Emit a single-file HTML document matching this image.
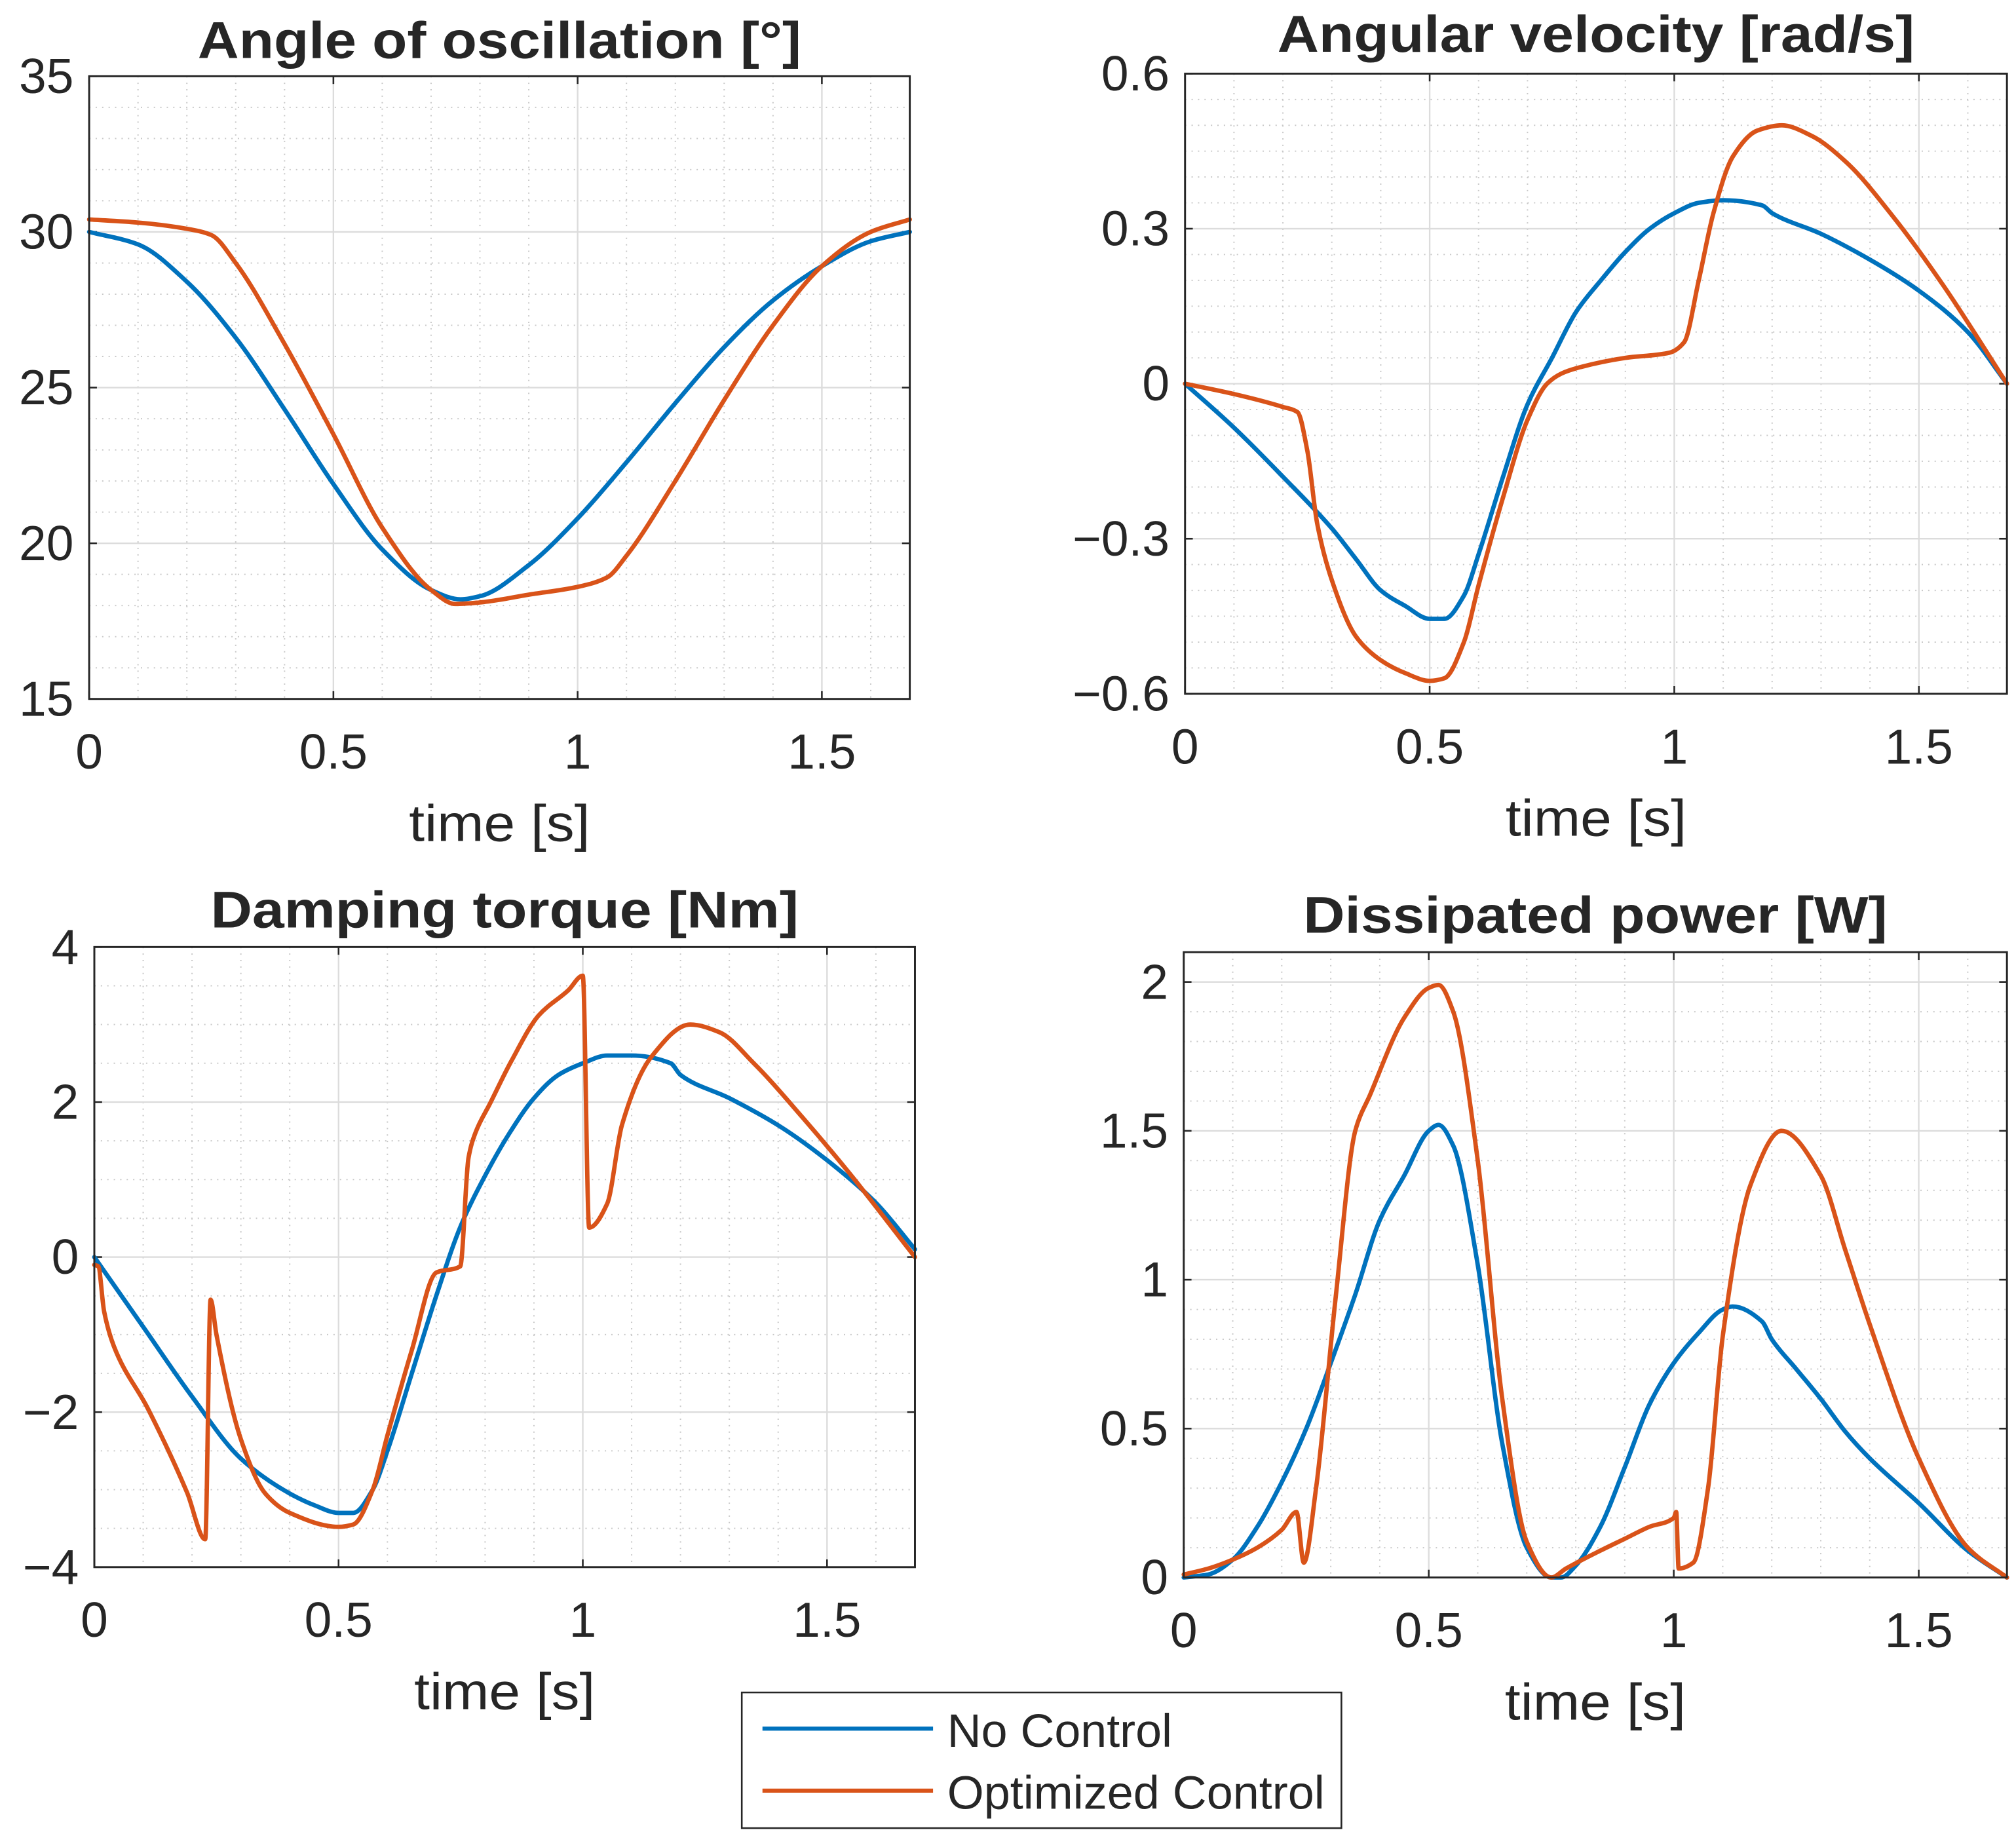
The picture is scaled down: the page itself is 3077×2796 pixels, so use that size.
<!DOCTYPE html>
<html><head><meta charset="utf-8"><style>
html,body{margin:0;padding:0;background:#fff;}
svg{display:block;}
text{font-family:"Liberation Sans",Arial,sans-serif;fill:#262626;}
</style></head><body>
<svg id="fig" width="3077" height="2796" viewBox="0 0 1560 1418" preserveAspectRatio="none" xmlns="http://www.w3.org/2000/svg"></svg>
<script>
// ---- data ----
const angleT_nc = [0,0.1,0.2,0.3,0.4,0.5,0.6,0.7,0.76,0.8,0.9,1.0,1.1,1.2,1.3,1.4,1.5,1.6,1.68];
const angleV_nc = [30,29.6,28.4,26.6,24.3,21.9,19.8,18.5,18.2,18.3,19.3,20.8,22.6,24.5,26.3,27.8,28.9,29.7,30];
const angleT_oc = [0,0.1,0.2,0.25,0.3,0.4,0.5,0.6,0.7,0.75,0.8,0.9,1.0,1.06,1.1,1.2,1.3,1.4,1.5,1.6,1.68];
const angleV_oc = [30.4,30.3,30.1,29.9,29.0,26.4,23.5,20.5,18.5,18.05,18.1,18.35,18.6,18.9,19.6,22.0,24.6,27.0,28.9,30.0,30.4];

const velT_nc = [0,0.1,0.2,0.3,0.35,0.4,0.45,0.5,0.53,0.57,0.6,0.65,0.7,0.75,0.8,0.85,0.9,0.95,1.0,1.05,1.1,1.18,1.2,1.3,1.4,1.5,1.6,1.68];
const velV_nc = [0,-0.085,-0.18,-0.28,-0.34,-0.4,-0.43,-0.455,-0.455,-0.41,-0.33,-0.18,-0.04,0.05,0.14,0.2,0.255,0.3,0.33,0.35,0.355,0.345,0.33,0.29,0.24,0.18,0.1,0];
const velT_oc = [0,0.1,0.2,0.23,0.25,0.27,0.3,0.35,0.4,0.45,0.5,0.53,0.57,0.6,0.65,0.7,0.74,0.77,0.8,0.9,0.99,1.02,1.05,1.08,1.12,1.17,1.22,1.28,1.35,1.45,1.55,1.68];
const velV_oc = [0,-0.02,-0.045,-0.055,-0.13,-0.27,-0.38,-0.49,-0.535,-0.56,-0.575,-0.57,-0.5,-0.39,-0.22,-0.07,0.0,0.02,0.03,0.05,0.06,0.08,0.2,0.33,0.44,0.49,0.5,0.48,0.43,0.32,0.19,0];

const torT_nc = [0,0.1,0.2,0.3,0.4,0.45,0.5,0.53,0.57,0.6,0.65,0.7,0.75,0.8,0.85,0.9,0.95,1.0,1.05,1.1,1.18,1.2,1.3,1.4,1.5,1.6,1.68];
const torV_nc = [0,-0.9,-1.8,-2.6,-3.05,-3.2,-3.3,-3.3,-3.0,-2.5,-1.5,-0.5,0.4,1.05,1.6,2.05,2.35,2.5,2.6,2.6,2.5,2.35,2.05,1.7,1.25,0.7,0.1];
const torT_oc = [0,0.008,0.02,0.04,0.11,0.19,0.227,0.238,0.25,0.3,0.35,0.4,0.5,0.53,0.57,0.6,0.65,0.7,0.749,0.766,0.78,0.81,0.853,0.91,0.97,1.0,1.013,1.05,1.08,1.14,1.22,1.28,1.35,1.45,1.55,1.68];
const torV_oc = [-0.1,-0.12,-0.7,-1.15,-1.96,-3.04,-3.64,-0.55,-1.0,-2.35,-3.05,-3.3,-3.48,-3.45,-3.0,-2.3,-1.2,-0.2,-0.12,1.28,1.6,1.98,2.52,3.12,3.44,3.63,0.38,0.69,1.7,2.58,3.0,2.9,2.5,1.8,1.05,0];

const powT_nc = [0,0.05,0.1,0.15,0.2,0.25,0.3,0.35,0.4,0.45,0.5,0.52,0.55,0.6,0.65,0.7,0.75,0.77,0.8,0.85,0.9,0.95,1.0,1.05,1.1,1.12,1.18,1.2,1.25,1.3,1.35,1.4,1.5,1.6,1.68];
const powV_nc = [0,0.01,0.06,0.17,0.32,0.5,0.72,0.95,1.2,1.35,1.5,1.52,1.45,1.05,0.45,0.1,0.0,0.0,0.04,0.17,0.37,0.58,0.72,0.82,0.9,0.91,0.86,0.8,0.7,0.6,0.49,0.4,0.25,0.09,0];
const powT_oc = [0,0.05,0.1,0.15,0.2,0.23,0.245,0.27,0.31,0.35,0.38,0.45,0.5,0.52,0.55,0.6,0.65,0.7,0.75,0.78,0.85,0.9,0.95,1.0,1.005,1.01,1.04,1.07,1.1,1.157,1.22,1.3,1.35,1.4,1.5,1.6,1.68];
const powV_oc = [0.01,0.03,0.06,0.1,0.16,0.22,0.05,0.3,0.94,1.5,1.62,1.88,1.98,1.99,1.9,1.4,0.6,0.12,0.0,0.03,0.09,0.13,0.17,0.2,0.22,0.03,0.05,0.3,0.81,1.32,1.5,1.35,1.1,0.85,0.4,0.1,0];

const xTicks = [0,0.5,1,1.5];
const xTickLabels = ["0","0.5","1","1.5"];
const angleYTicks = [15,20,25,30,35];
const angleYLabels = ["15","20","25","30","35"];
const velYTicks = [-0.6,-0.3,0,0.3,0.6];
const velYLabels = ["\u22120.6","\u22120.3","0","0.3","0.6"];
const torYTicks = [-4,-2,0,2,4];
const torYLabels = ["\u22124","\u22122","0","2","4"];
const powYTicks = [0,0.5,1,1.5,2];
const powYLabels = ["0","0.5","1","1.5","2"];

// ---- layout ----
const NS = "http://www.w3.org/2000/svg";
const svg = document.getElementById('fig');
function mk(tag, attrs, parent){const e=document.createElementNS(NS,tag);for(const k in attrs)e.setAttribute(k,attrs[k]);(parent||svg).appendChild(e);return e;}

// monotone cubic path through pixel points
function smoothPath(px, py){
  const n=px.length; if(n<2) return '';
  const d=[], m=new Array(n);
  for(let i=0;i<n-1;i++) d.push((py[i+1]-py[i])/(px[i+1]-px[i]));
  m[0]=d[0]; m[n-1]=d[n-2];
  for(let i=1;i<n-1;i++){
    if(d[i-1]*d[i]<=0) m[i]=0;
    else { const w1=2*(px[i+1]-px[i])+(px[i]-px[i-1]), w2=(px[i+1]-px[i])+2*(px[i]-px[i-1]);
      m[i]=(w1+w2)/(w1/d[i-1]+w2/d[i]); }
  }
  let s='M'+px[0].toFixed(2)+','+py[0].toFixed(2);
  for(let i=0;i<n-1;i++){
    const h=(px[i+1]-px[i])/3;
    s+=' C'+(px[i]+h).toFixed(2)+','+(py[i]+m[i]*h).toFixed(2)+' '+(px[i+1]-h).toFixed(2)+','+(py[i+1]-m[i+1]*h).toFixed(2)+' '+px[i+1].toFixed(2)+','+py[i+1].toFixed(2);
  }
  return s;
}

const BLUE="#0072BD", ORANGE="#D95319";
const panels = [
 {name:"angle", title:"Angle of oscillation [°]", titleW:467, L:69,R:704,T:59,B:541, xmax:1.68, ymin:15,ymax:35, yt:angleYTicks, yl:angleYLabels, minorY:1,
  s:[[angleT_nc,angleV_nc,BLUE],[angleT_oc,angleV_oc,ORANGE]], titleY:45},
 {name:"velocity", title:"Angular velocity [rad/s]", titleW:493, L:917,R:1553,T:57,B:537, xmax:1.68, ymin:-0.6,ymax:0.6, yt:velYTicks, yl:velYLabels, minorY:0.05,
  s:[[velT_nc,velV_nc,BLUE],[velT_oc,velV_oc,ORANGE]], titleY:40},
 {name:"torque", title:"Damping torque [Nm]", titleW:455, L:73,R:708,T:733,B:1213, xmax:1.68, ymin:-4,ymax:4, yt:torYTicks, yl:torYLabels, minorY:0.5,
  s:[[torT_nc,torV_nc,BLUE],[torT_oc,torV_oc,ORANGE]], titleY:718},
 {name:"power", title:"Dissipated power [W]", titleW:452, L:916,R:1553,T:737,B:1221, xmax:1.68, ymin:0,ymax:2.1, yt:powYTicks, yl:powYLabels, minorY:0.1,
  s:[[powT_nc,powV_nc,BLUE],[powT_oc,powV_oc,ORANGE]], titleY:722}
];

panels.forEach(p=>{
  const g = mk('g',{});
  
  
  const xs = v => p.L + (v/p.xmax)*(p.R-p.L);
  const ys = v => p.B - (v-p.ymin)/(p.ymax-p.ymin)*(p.B-p.T);
  mk('rect',{x:p.L,y:p.T,width:p.R-p.L,height:p.B-p.T,fill:'#fff'},g);
  for(let i=1;i<Math.round(p.xmax*10)+1;i++){const v=i/10; if(i%5===0||v>=p.xmax)continue;
    const l=mk('line',{x1:xs(v),x2:xs(v),y1:p.T,y2:p.B,stroke:'#c8c8c8','stroke-width':1,'stroke-dasharray':'1 4'},g);
    
    }
  const nMin = Math.round((p.ymax-p.ymin)/p.minorY);
  for(let i=1;i<nMin;i++){const v=p.ymin+i*p.minorY; if(p.yt.some(t=>Math.abs(t-v)<1e-6))continue;
    const l=mk('line',{x1:p.L,x2:p.R,y1:ys(v),y2:ys(v),stroke:'#c8c8c8','stroke-width':1,'stroke-dasharray':'1 4'},g);
    
    }
  xTicks.forEach((v,i)=>{
    const l=mk('line',{x1:xs(v),x2:xs(v),y1:p.T,y2:p.B,stroke:'#dcdcdc','stroke-width':1.2},g);
    
    
    mk('line',{x1:xs(v),x2:xs(v),y1:p.B,y2:p.B-6,stroke:'#262626','stroke-width':1.3},g);
    mk('line',{x1:xs(v),x2:xs(v),y1:p.T,y2:p.T+6,stroke:'#262626','stroke-width':1.3},g);
    const t=mk('text',{x:xs(v),y:p.B+54,'font-size':38,'text-anchor':'middle'},g);
    t.textContent=xTickLabels[i];
    
    
  });
  p.yt.forEach((v,i)=>{
    const l=mk('line',{x1:p.L,x2:p.R,y1:ys(v),y2:ys(v),stroke:'#dcdcdc','stroke-width':1.2},g);
    
    
    mk('line',{x1:p.L,x2:p.L+6,y1:ys(v),y2:ys(v),stroke:'#262626','stroke-width':1.3},g);
    mk('line',{x1:p.R,x2:p.R-6,y1:ys(v),y2:ys(v),stroke:'#262626','stroke-width':1.3},g);
    const t=mk('text',{x:p.L-12,y:ys(v)+13,'font-size':38,'text-anchor':'end'},g);
    t.textContent=p.yl[i];
    
    
  });
  p.s.forEach((s,k)=>{
    const d=smoothPath(s[0].map(xs), s[1].map(ys));
    const path=mk('path',{d:d,fill:'none',stroke:s[2],'stroke-width':3.4,'stroke-linejoin':'round','stroke-linecap':'round'},g);
    
    
  });
  const box=mk('rect',{x:p.L,y:p.T,width:p.R-p.L,height:p.B-p.T,fill:'none',stroke:'#262626','stroke-width':1.5},g);
  
  
  const ti=mk('text',{x:(p.L+p.R)/2,y:p.titleY,'font-size':40,'font-weight':'bold','text-anchor':'middle',fill:'#000',textLength:p.titleW,lengthAdjust:'spacingAndGlyphs'},g);
  ti.textContent=p.title;
  
  
  const xl=mk('text',{x:(p.L+p.R)/2,y:p.B+110,'font-size':40,'text-anchor':'middle',textLength:140,lengthAdjust:'spacingAndGlyphs'},g);
  xl.textContent='time [s]';
  
  
});

const lg = mk('g',{});


mk('rect',{x:574,y:1310,width:464,height:105,fill:'#fff',stroke:'#262626','stroke-width':1.3},lg);
const e1=mk('line',{x1:590,x2:722,y1:1338,y2:1338,stroke:BLUE,'stroke-width':3.2},lg);


const t1=mk('text',{x:733,y:1352,'font-size':36,textLength:174,lengthAdjust:'spacingAndGlyphs'},lg);
t1.textContent='No Control';


const e2=mk('line',{x1:590,x2:722,y1:1386,y2:1386,stroke:ORANGE,'stroke-width':3.2},lg);


const t2=mk('text',{x:733,y:1400,'font-size':36,textLength:292,lengthAdjust:'spacingAndGlyphs'},lg);
t2.textContent='Optimized Control';


</script>
</body></html>
